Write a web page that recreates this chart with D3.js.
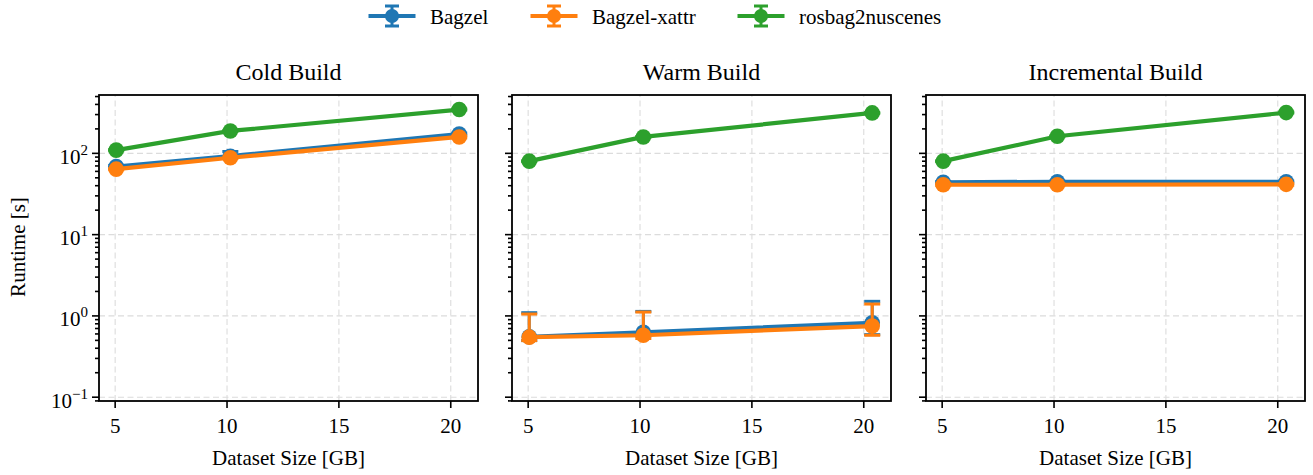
<!DOCTYPE html>
<html>
<head>
<meta charset="utf-8">
<script src="https://cdn.jsdelivr.net/npm/d3@7"></script>
<style>
  body { margin: 0; background: #fff; }
  svg { display: block; font-family: "Liberation Serif", "Times New Roman", serif; }
  svg text { font-family: "Liberation Serif", "Times New Roman", serif !important; }
  .grid line { stroke: #dcdcdc; stroke-dasharray: 6 3.5; stroke-width: 1.1; }
  .grid path { display: none; }
  .axis path { display: none; }
  .axis line { stroke: #000; stroke-width: 1.6; }
  .axis text { fill: #000; font-size: 21px; }
</style>
</head>
<body>
<svg id="chart" width="1313" height="475"></svg>
<script>
// dataset sizes (GB) on the x axis
const sizes = [5.07, 10.17, 20.4];
const xTicks = [5, 10, 15, 20];
const yTicks = [0.1, 1, 10, 100];

const panelTitles = ["Cold Build", "Warm Build", "Incremental Build"];
const seriesNames = ["Bagzel", "Bagzel-xattr", "rosbag2nuscenes"];
const seriesColors = ["#1f77b4", "#ff7f0e", "#2ca02c"];

// runtimes [s], one array per panel, per series
const bagzel = [
  [68, 91, 170],
  [0.545, 0.62, 0.81],
  [43.5, 44, 44],
];
const bagzelLow = [
  [66, 88, 165],
  [0.49, 0.56, 0.58],
  [42.5, 43, 43],
];
const bagzelHigh = [
  [70, 104, 175],
  [1.08, 1.12, 1.49],
  [44.5, 45, 45],
];

const xattr = [
  [63, 87, 157],
  [0.54, 0.57, 0.74],
  [40.5, 40.5, 41],
];
const xattrLow = [
  [62, 85, 153],
  [0.49, 0.52, 0.57],
  [39.5, 39.5, 40],
];
const xattrHigh = [
  [64, 89, 161],
  [1.04, 1.1, 1.38],
  [41.5, 41.5, 42],
];

const rosbag = [
  [108, 186, 341],
  [79, 157, 310],
  [79, 160, 313],
];
const rosbagLow = [
  [106, 183, 336],
  [78, 155, 306],
  [78, 158, 309],
];
const rosbagHigh = [
  [110, 189, 346],
  [80, 159, 314],
  [80, 162, 317],
];

const values = [bagzel, xattr, rosbag];
const lows = [bagzelLow, xattrLow, rosbagLow];
const highs = [bagzelHigh, xattrHigh, rosbagHigh];

const svg = d3.select("#chart");
const panelLeft = [99, 512, 926];
const panelWidth = 379;
const plotTop = 95;
const plotBottom = 401;

const y = d3.scaleLog().domain([0.0885, 515]).range([plotBottom, plotTop]);

function supLabel(sel, d) {
  const exp = Math.round(Math.log10(d));
  sel.text(null);
  sel.append("tspan").text("10");
  sel.append("tspan").attr("dy", "-0.6em").style("font-size", "15px").text(exp < 0 ? "\u2212" + (-exp) : exp);
}

panelTitles.forEach((title, p) => {
  const x = d3.scaleLinear().domain([4.3, 21.24]).range([panelLeft[p], panelLeft[p] + panelWidth]);
  const g = svg.append("g");

  // grid
  g.append("g").attr("class", "grid")
    .attr("transform", `translate(0,${plotBottom})`)
    .call(d3.axisBottom(x).tickValues(xTicks).tickSize(-(plotBottom - plotTop)).tickFormat(""));
  g.append("g").attr("class", "grid")
    .attr("transform", `translate(${panelLeft[p]},0)`)
    .call(d3.axisLeft(y).tickValues(yTicks).tickSize(-panelWidth).tickFormat(""));

  // x axis
  g.append("g").attr("class", "axis")
    .attr("transform", `translate(0,${plotBottom})`)
    .call(d3.axisBottom(x).tickValues(xTicks).tickSize(7).tickPadding(6))
    .selectAll("text").attr("dy", "0.9em");

  // y axis, major and minor ticks
  const minor = [];
  for (let e = -2; e <= 2; e += 1) {
    for (let m = 2; m <= 9; m += 1) {
      const v = m * 10 ** e;
      if (v > y.domain()[0] && v < y.domain()[1]) minor.push(v);
    }
  }
  g.append("g").attr("class", "axis")
    .attr("transform", `translate(${panelLeft[p]},0)`)
    .call(d3.axisLeft(y).tickValues(minor).tickSize(4).tickFormat(""));
  const yAx = g.append("g").attr("class", "axis")
    .attr("transform", `translate(${panelLeft[p]},0)`)
    .call(d3.axisLeft(y).tickValues(yTicks).tickSize(7).tickPadding(4).tickFormat(""));
  if (p === 0) {
    yAx.selectAll(".tick text").each(function (d) { supLabel(d3.select(this), d); })
      .attr("dy", "0.5em");
  }

  // series
  const line = d3.line().x((d) => x(d[0])).y((d) => y(d[1]));
  values.forEach((series, s) => {
    const pts = sizes.map((sz, i) => [sz, series[p][i]]);
    const c = seriesColors[s];
    const sg = g.append("g");
    sizes.forEach((sz, i) => {
      const cx = x(sz);
      const lo = y(lows[s][p][i]);
      const hi = y(highs[s][p][i]);
      sg.append("line").attr("x1", cx).attr("x2", cx).attr("y1", lo).attr("y2", hi)
        .attr("stroke", c).attr("stroke-width", 3);
      [lo, hi].forEach((yy) => {
        sg.append("line").attr("x1", cx - 8).attr("x2", cx + 8).attr("y1", yy).attr("y2", yy)
          .attr("stroke", c).attr("stroke-width", 3);
      });
    });
    sg.append("path").datum(pts).attr("d", line).attr("fill", "none")
      .attr("stroke", c).attr("stroke-width", 4.2);
    sg.selectAll("circle").data(pts).join("circle")
      .attr("cx", (d) => x(d[0])).attr("cy", (d) => y(d[1])).attr("r", 7.8).attr("fill", c);
  });

  // frame
  g.append("rect").attr("x", panelLeft[p]).attr("y", plotTop)
    .attr("width", panelWidth).attr("height", plotBottom - plotTop)
    .attr("fill", "none").attr("stroke", "#000").attr("stroke-width", 1.8);

  g.append("text").attr("x", panelLeft[p] + panelWidth / 2).attr("y", 80)
    .attr("text-anchor", "middle").style("font-size", "24px").text(title);
  g.append("text").attr("x", panelLeft[p] + panelWidth / 2).attr("y", 465)
    .attr("text-anchor", "middle").style("font-size", "21px").text("Dataset Size [GB]");
});

svg.append("text").attr("transform", "translate(25,247) rotate(-90)")
  .attr("text-anchor", "middle").style("font-size", "21px").text("Runtime [s]");

// legend
const legendX = [392, 554, 761];
seriesNames.forEach((name, s) => {
  const c = seriesColors[s];
  const lg = svg.append("g").attr("transform", `translate(${legendX[s]},16)`);
  lg.append("line").attr("x1", -23.5).attr("x2", 23.5).attr("stroke", c).attr("stroke-width", 4);
  lg.append("line").attr("y1", -10).attr("y2", 10).attr("stroke", c).attr("stroke-width", 3);
  [-10, 10].forEach((yy) => lg.append("line").attr("x1", -7).attr("x2", 7).attr("y1", yy).attr("y2", yy)
    .attr("stroke", c).attr("stroke-width", 3));
  lg.append("circle").attr("r", 7).attr("fill", c);
  lg.append("text").attr("x", 38).attr("y", 23.5 - 16).style("font-size", "21px").text(name);
});
</script>
</body>
</html>
